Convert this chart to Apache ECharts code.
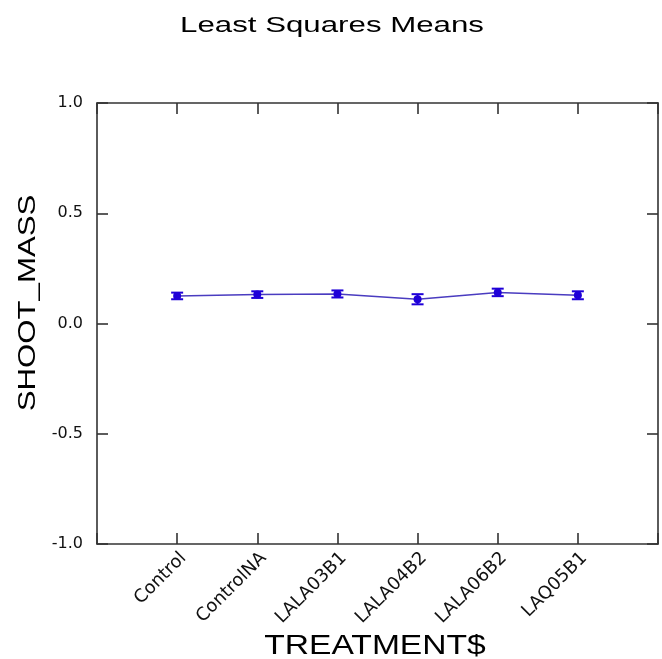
<!DOCTYPE html>
<html>
<head>
<meta charset="utf-8">
<script src="https://cdn.jsdelivr.net/npm/echarts@6/dist/echarts.min.js"></script>
<style>
  html, body { margin: 0; padding: 0; background: #fff; }
  #chart { width: 662px; height: 659px; }
</style>
</head>
<body>
<div id="chart"></div>
<script>
// Treatment groups and their least squares means of shoot mass
const categories = ['Control', 'ControlNA', 'LALA03B1', 'LALA04B2', 'LALA06B2', 'LAQ05B1'];
const means = [0.125, 0.131, 0.134, 0.110, 0.141, 0.128];
const stdErrors = [0.015, 0.015, 0.016, 0.023, 0.017, 0.018];

const titleText = 'Least Squares Means';
const xName = 'TREATMENT$';
const yName = 'SHOOT_MASS';

const frameColor = '#333';
const lineColor = '#4a3cc0';
const markColor = '#1f00d8';

const chart = echarts.init(document.getElementById('chart'));

// categories sit at positions 1..n on a numeric axis with one empty slot each side
const points = categories.map((c, i) => [i + 1, means[i]]);
const bars = categories.map((c, i) => [i + 1, means[i] - stdErrors[i], means[i] + stdErrors[i]]);

const tickStyle = { inside: true, length: 11, lineStyle: { color: frameColor, width: 1.6 } };
const frameLine = { show: true, onZero: false, lineStyle: { color: frameColor, width: 1.6 } };

chart.setOption({
  animation: false,
  backgroundColor: '#fff',
  grid: { left: 97, right: 4, top: 103, bottom: 115, containLabel: false },
  xAxis: [
    {
      type: 'value', position: 'bottom', min: 0, max: categories.length + 1, interval: 1,
      axisLine: frameLine, axisTick: tickStyle, splitLine: { show: false },
      axisLabel: {
        rotate: 45, margin: 5, verticalAlign: 'top',
        formatter: v => categories[v - 1] || '',
        fontFamily: 'DejaVu Sans', fontSize: 18, color: '#111'
      }
    },
    {
      type: 'value', position: 'top', min: 0, max: categories.length + 1, interval: 1,
      axisLine: frameLine, axisTick: tickStyle, splitLine: { show: false },
      axisLabel: { show: false }
    }
  ],
  yAxis: [
    {
      type: 'value', position: 'left', min: -1, max: 1, interval: 0.5,
      axisLine: frameLine, axisTick: tickStyle, splitLine: { show: false },
      axisLabel: {
        margin: 14, formatter: v => v.toFixed(1),
        fontFamily: 'DejaVu Sans', fontSize: 16, color: '#111'
      }
    },
    {
      type: 'value', position: 'right', min: -1, max: 1, interval: 0.5,
      axisLine: frameLine, axisTick: tickStyle, splitLine: { show: false },
      axisLabel: { show: false }
    }
  ],
  series: [
    {
      type: 'line', data: points, xAxisIndex: 0, yAxisIndex: 0,
      symbol: 'circle', symbolSize: 8,
      lineStyle: { color: lineColor, width: 1.5 },
      itemStyle: { color: markColor },
      z: 3
    },
    {
      type: 'custom', data: bars, xAxisIndex: 0, yAxisIndex: 0,
      renderItem: function (params, api) {
        const x = api.value(0);
        const lo = api.coord([x, api.value(1)]);
        const hi = api.coord([x, api.value(2)]);
        const hw = 6;
        const st = { stroke: markColor, lineWidth: 2 };
        return {
          type: 'group',
          children: [
            { type: 'line', shape: { x1: lo[0], y1: lo[1], x2: hi[0], y2: hi[1] }, style: st },
            { type: 'line', shape: { x1: lo[0] - hw, y1: lo[1], x2: lo[0] + hw, y2: lo[1] }, style: st },
            { type: 'line', shape: { x1: hi[0] - hw, y1: hi[1], x2: hi[0] + hw, y2: hi[1] }, style: st }
          ]
        };
      },
      z: 4
    }
  ],
  graphic: [
    {
      type: 'text', x: 332, y: 26, scaleX: 1.42,
      style: { text: titleText, font: '22px "Liberation Sans"', fill: '#000', align: 'center', verticalAlign: 'middle' }
    },
    {
      type: 'text', x: 375, y: 646, scaleX: 1.2,
      style: { text: xName, font: '28px "Liberation Sans"', fill: '#000', align: 'center', verticalAlign: 'middle' }
    },
    {
      type: 'text', x: 28, y: 303, rotation: Math.PI / 2, scaleX: 1.3,
      style: { text: yName, font: '24px "Liberation Sans"', fill: '#000', align: 'center', verticalAlign: 'middle' }
    }
  ]
});
</script>
</body>
</html>
